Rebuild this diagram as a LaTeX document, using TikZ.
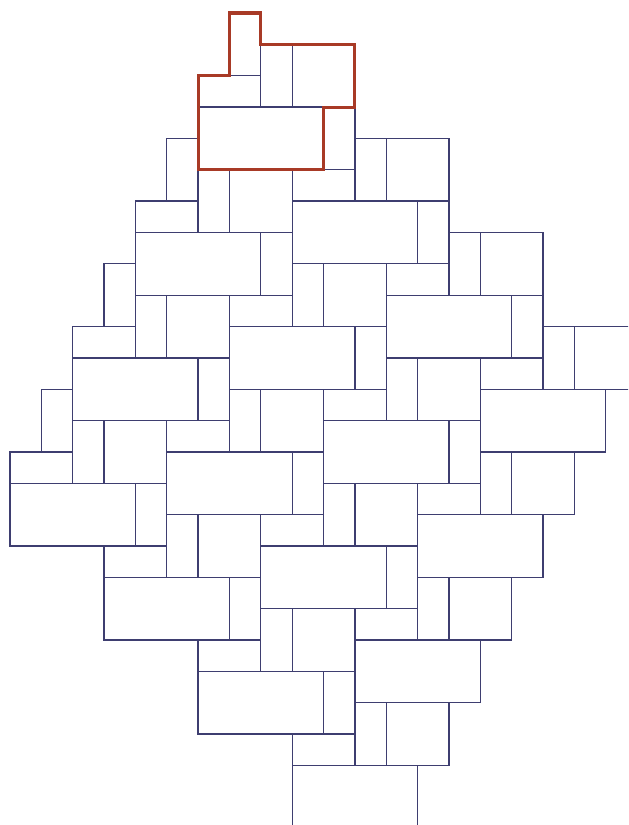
\documentclass[tikz,border=0pt]{standalone}
\usepackage{xcolor}
\usepackage{tikz}

\definecolor{tileblue}{RGB}{62,62,112}
\definecolor{motifred}{RGB}{168,58,38}

\begin{document}
\begin{tikzpicture}[
    x=0.94cm, y=-0.94cm,
    tile/.style={draw=tileblue, line width=1.1pt},
    motif/.style={draw=motifred, line width=2.6pt, line join=miter}
]
    \useasboundingbox (-0.319,-0.415) rectangle (19.713,25.9);
    \clip (-0.319,-0.415) rectangle (19.713,25.9);

    % 4 x 4 copies of the base motif, shifted by (3,3) and (-2,4)
    \foreach \n in {0,...,3}{
      \foreach \m in {0,...,3}{
        \begin{scope}[shift={({3*\n-2*\m},{3*\n+4*\m})}]
          \draw[tile] (7,0) rectangle (8,2);
          \draw[tile] (6,2) rectangle (8,3);
          \draw[tile] (8,1) rectangle (9,3);
          \draw[tile] (9,1) rectangle (11,3);
          \draw[tile] (6,3) rectangle (10,5);
        \end{scope}
      }
    }

    % highlighted motif
    \draw[motif] (7,0) -| (8,1) -| (11,3) -| (10,5) -| (6,2) -| (7,0) -- cycle;
\end{tikzpicture}
\end{document}
